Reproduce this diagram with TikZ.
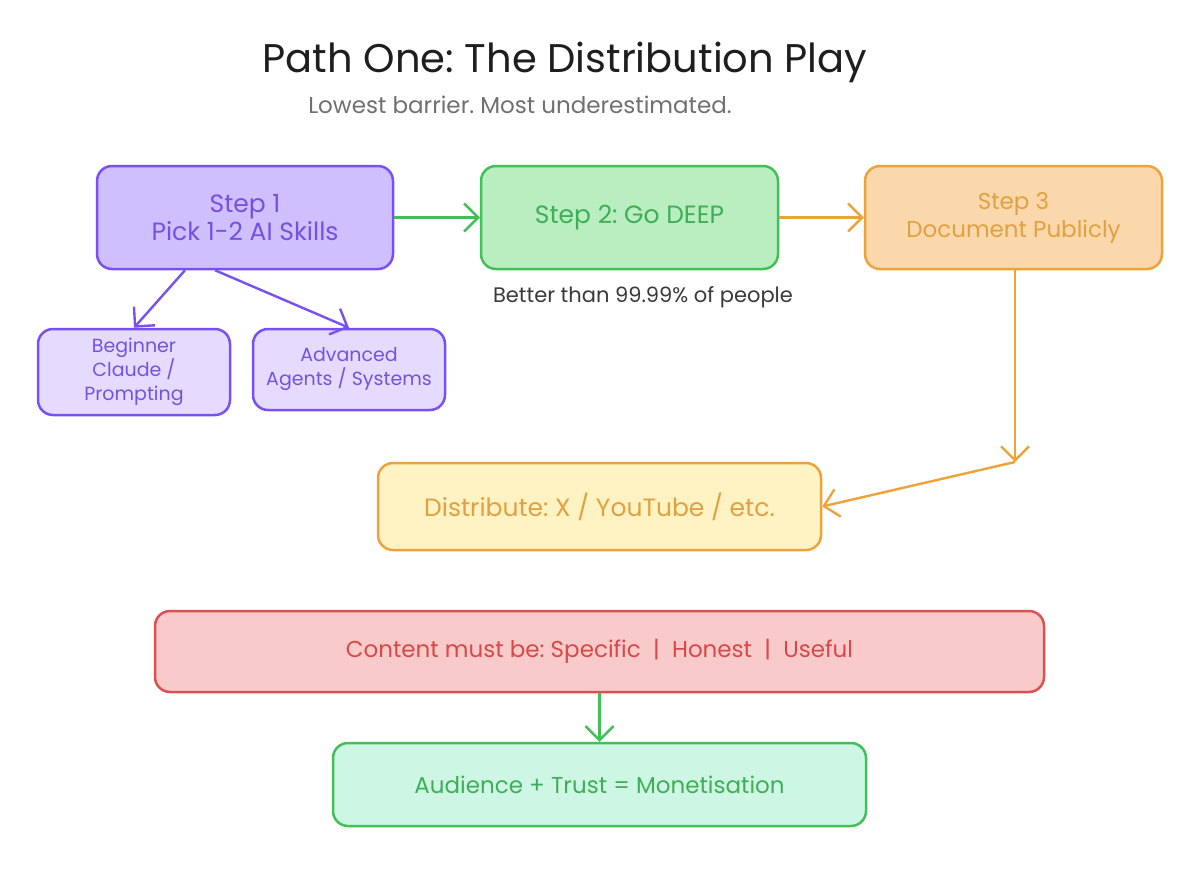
\documentclass[tikz,border=0pt]{standalone}
\usepackage{fontspec}
\setmainfont{Poppins}
\frenchspacing
\usetikzlibrary{arrows.meta,calc}
\definecolor{purp}{HTML}{7950F2}
\definecolor{purptext}{HTML}{7352E0}
\definecolor{purpfill}{HTML}{D0BFFF}
\definecolor{purplight}{HTML}{E5DBFF}
\definecolor{grn}{HTML}{40C057}
\definecolor{grntext}{HTML}{3FAE55}
\definecolor{grnfill}{HTML}{B8EEC0}
\definecolor{mintfill}{HTML}{CDF7E4}
\definecolor{orng}{HTML}{EDA33A}
\definecolor{orngtext}{HTML}{E3A040}
\definecolor{orngfill}{HTML}{FAD8AC}
\definecolor{yelfill}{HTML}{FFF3C4}
\definecolor{rd}{HTML}{DD5050}
\definecolor{rdtext}{HTML}{D84848}
\definecolor{rdfill}{HTML}{F8CACA}
\definecolor{ink}{HTML}{1E1E1E}
\definecolor{subgray}{HTML}{707070}
\definecolor{notegray}{HTML}{3A3A3A}
\tikzset{
  box/.style={rounded corners=15pt, line width=2.5pt, align=center, inner sep=0pt},
  bigtxt/.style={font=\fontsize{25}{28}\selectfont},
  midtxt/.style={font=\fontsize{23}{28}\selectfont},
  smalltxt/.style={font=\fontsize{19}{24}\selectfont},
  conn/.style={line width=2.4pt, -{Straight Barb[length=14pt,width=28pt,line width=2.4pt]}},
}
\begin{document}
\begin{tikzpicture}[x=1pt,y=-1pt]
\useasboundingbox[fill=white] (0,0) rectangle (1200,875);
% title
\node[text=ink, font=\fontsize{40}{46}\selectfont] (title) at (565,62) {Path One: The Distribution Play};
\node[text=subgray, font=\fontsize{23}{26}\selectfont] (sub) at (520,105) {Lowest barrier. Most underestimated.};
% boxes
\node[box, bigtxt, draw=purp, fill=purpfill, text=purptext, minimum width=296pt, minimum height=103pt] (s1) at (245,217.5) {Step 1\\Pick 1-2 AI Skills};
\node[box, bigtxt, draw=grn, fill=grnfill, text=grntext, minimum width=297pt, minimum height=103pt] (s2) at (629.5,217.5) {Step 2: Go DEEP};
\node[box, midtxt, draw=orng, fill=orngfill, text=orngtext, minimum width=297pt, minimum height=103pt] (s3) at (1013.5,217.5) {Step 3\\Document Publicly};
\node[box, smalltxt, draw=purp, fill=purplight, text=purptext, minimum width=192pt, minimum height=86pt] (beg) at (134,372) {Beginner\\Claude /\\Prompting};
\node[box, smalltxt, draw=purp, fill=purplight, text=purptext, minimum width=192pt, minimum height=81pt] (adv) at (349,369.5) {Advanced\\Agents / Systems};
\node[box, bigtxt, draw=orng, fill=yelfill, text=orngtext, minimum width=443pt, minimum height=87pt] (dist) at (599.5,506.5) {Distribute: X / YouTube / etc.};
\node[box, midtxt, draw=rd, fill=rdfill, text=rdtext, minimum width=889pt, minimum height=81pt] (cont) at (599.5,651.5) {Content must be: Specific \ | \ Honest \ | \ Useful};
\node[box, midtxt, draw=grn, fill=mintfill, text=grntext, minimum width=533pt, minimum height=83pt] (aud) at (599.5,784.5) {Audience + Trust = Monetisation};
% note
\node[text=notegray, font=\fontsize{21}{24}\selectfont] (note) at (643,297) {Better than 99.99\% of people};
% connectors
\coordinate (bend) at (1015,462);
\draw[conn, draw=grn] (s1.east) -- (s2.west);
\draw[conn, draw=orng] (s2.east) -- (s3.west);
\draw[conn, draw=purp] ([xshift=-60pt]s1.south) -- (beg.north);
\draw[conn, draw=purp] ([xshift=-30pt]s1.south) -- (adv.north);
\draw[conn, draw=orng] ([xshift=1.5pt]s3.south) -- (bend);
\draw[conn, draw=orng] (bend) -- (dist.east);
\draw[conn, draw=grn] (cont.south) -- (aud.north);
\end{tikzpicture}
\end{document}
